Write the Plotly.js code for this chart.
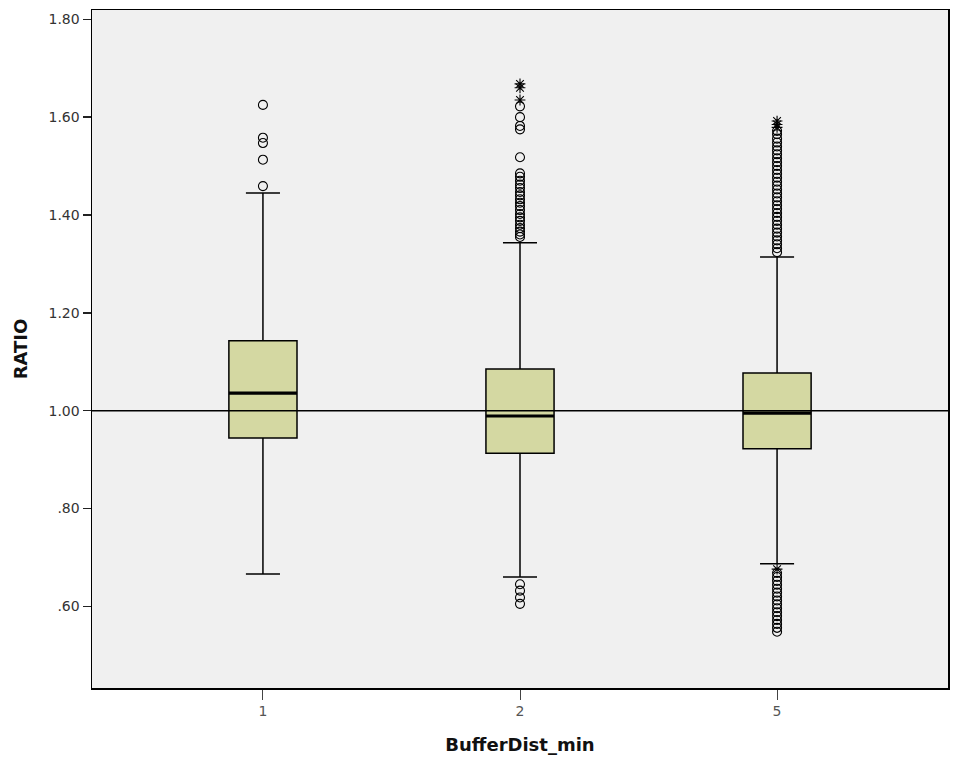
<!DOCTYPE html>
<html>
<head>
<meta charset="utf-8">
<script src="https://cdn.plot.ly/plotly-3.0.1.min.js"></script>
<style>html,body{margin:0;padding:0;background:#fff;}#chart{width:955px;height:765px;}</style>
</head>
<body>
<div id="chart"></div>
<script>
// Categories (BufferDist_min)
const categories = ["1", "2", "5"];
// Box statistics
const q1Values = [0.944, 0.913, 0.922];
const medianValues = [1.036, 0.989, 0.995];
const q3Values = [1.143, 1.085, 1.077];
const lowerWhisker = [0.666, 0.660, 0.687];
const upperWhisker = [1.445, 1.343, 1.314];

// Outliers (circles)
const outliers1 = [1.625, 1.558, 1.547, 1.513, 1.459];
const outliers2 = [1.622, 1.600, 1.582, 1.575, 1.518, 1.485, 1.478, 1.470, 1.462, 1.455, 1.447,
  1.440, 1.432, 1.425, 1.418, 1.410, 1.402, 1.395, 1.388, 1.380, 1.373, 1.366, 1.360, 1.355,
  0.645, 0.632, 0.618, 0.605];
const outliers5 = [1.572, 1.565, 1.556, 1.548, 1.540, 1.532, 1.524, 1.516, 1.508, 1.500, 1.492,
  1.484, 1.476, 1.468, 1.460, 1.452, 1.444, 1.436, 1.428, 1.420, 1.412, 1.404, 1.396, 1.388,
  1.380, 1.372, 1.364, 1.356, 1.348, 1.340, 1.332, 1.324,
  0.668, 0.660, 0.652, 0.644, 0.636, 0.628, 0.620, 0.612, 0.604, 0.596, 0.588, 0.580, 0.572,
  0.564, 0.556, 0.548];
// Extreme values (asterisks)
const extremes1 = [];
const extremes2 = [1.668, 1.660, 1.635];
const extremes5 = [1.592, 1.585, 1.579, 0.676];

const yTickVals = [0.6, 0.8, 1.0, 1.2, 1.4, 1.6, 1.8];
const yTickText = [".60", ".80", "1.00", "1.20", "1.40", "1.60", "1.80"];
const referenceValue = 1.0;

const pos = categories.map((c, i) => i);
const boxWidth = 0.265;

const boxTrace = {
  type: "box",
  x: pos,
  q1: q1Values,
  median: medianValues,
  q3: q3Values,
  lowerfence: lowerWhisker,
  upperfence: upperWhisker,
  boxpoints: false,
  width: boxWidth,
  whiskerwidth: 0.5,
  fillcolor: "#d4d8a2",
  line: {color: "#000", width: 1.5},
  hoverinfo: "skip",
  showlegend: false
};

const medX = [], medY = [];
pos.forEach((p, i) => {
  medX.push(p - boxWidth / 2, p + boxWidth / 2, null);
  medY.push(medianValues[i], medianValues[i], null);
});
const medianTrace = {
  type: "scatter", mode: "lines", x: medX, y: medY,
  line: {color: "#000", width: 3.2}, hoverinfo: "skip", showlegend: false
};

function pts(lists) {
  const x = [], y = [];
  lists.forEach((arr, i) => arr.forEach(v => { x.push(pos[i]); y.push(v); }));
  return {x, y};
}
const circ = pts([outliers1, outliers2, outliers5]);
const ext = pts([extremes1, extremes2, extremes5]);

const outlierTrace = {
  type: "scatter", mode: "markers", x: circ.x, y: circ.y,
  marker: {symbol: "circle-open", size: 9, color: "#000", line: {width: 1.1, color: "#000"}},
  hoverinfo: "skip", showlegend: false
};
const extremeTrace = {
  type: "scatter", mode: "markers", x: ext.x, y: ext.y,
  marker: {symbol: "asterisk-open", size: 9, color: "#000", line: {width: 1.1, color: "#000"}},
  hoverinfo: "skip", showlegend: false
};

const layout = {
  width: 955, height: 765,
  margin: {l: 92, r: 7, t: 10, b: 77},
  paper_bgcolor: "#ffffff",
  plot_bgcolor: "#f0f0f0",
  showlegend: false,
  xaxis: {
    range: [-0.665, 2.665],
    tickvals: pos, ticktext: categories,
    ticks: "outside", ticklen: 10, tickwidth: 1, tickcolor: "#444",
    tickfont: {family: "DejaVu Sans, Arial, sans-serif", size: 14, color: "#555"},
    showline: true, linecolor: "#000", linewidth: 1.5, mirror: true,
    showgrid: false, zeroline: false,
    title: {text: "BufferDist_min", standoff: 20,
      font: {family: "DejaVu Sans, Arial, sans-serif", size: 18, color: "#111", weight: "bold"}}
  },
  yaxis: {
    range: [0.433, 1.819],
    tickvals: yTickVals, ticktext: yTickText,
    ticks: "outside", ticklen: 8, tickwidth: 1.5, tickcolor: "#222",
    tickfont: {family: "DejaVu Sans, Arial, sans-serif", size: 14, color: "#333"},
    showline: true, linecolor: "#000", linewidth: 1.5, mirror: true,
    showgrid: false, zeroline: false,
    title: {text: "RATIO", standoff: 16,
      font: {family: "DejaVu Sans, Arial, sans-serif", size: 18, color: "#111", weight: "bold"}}
  },
  shapes: [{
    type: "line", xref: "paper", x0: 0, x1: 1, yref: "y", y0: referenceValue, y1: referenceValue,
    line: {color: "#000", width: 1.5}, layer: "above"
  }]
};

Plotly.newPlot("chart", [boxTrace, medianTrace, outlierTrace, extremeTrace], layout, {displayModeBar: false, staticPlot: true});
</script>
</body>
</html>
